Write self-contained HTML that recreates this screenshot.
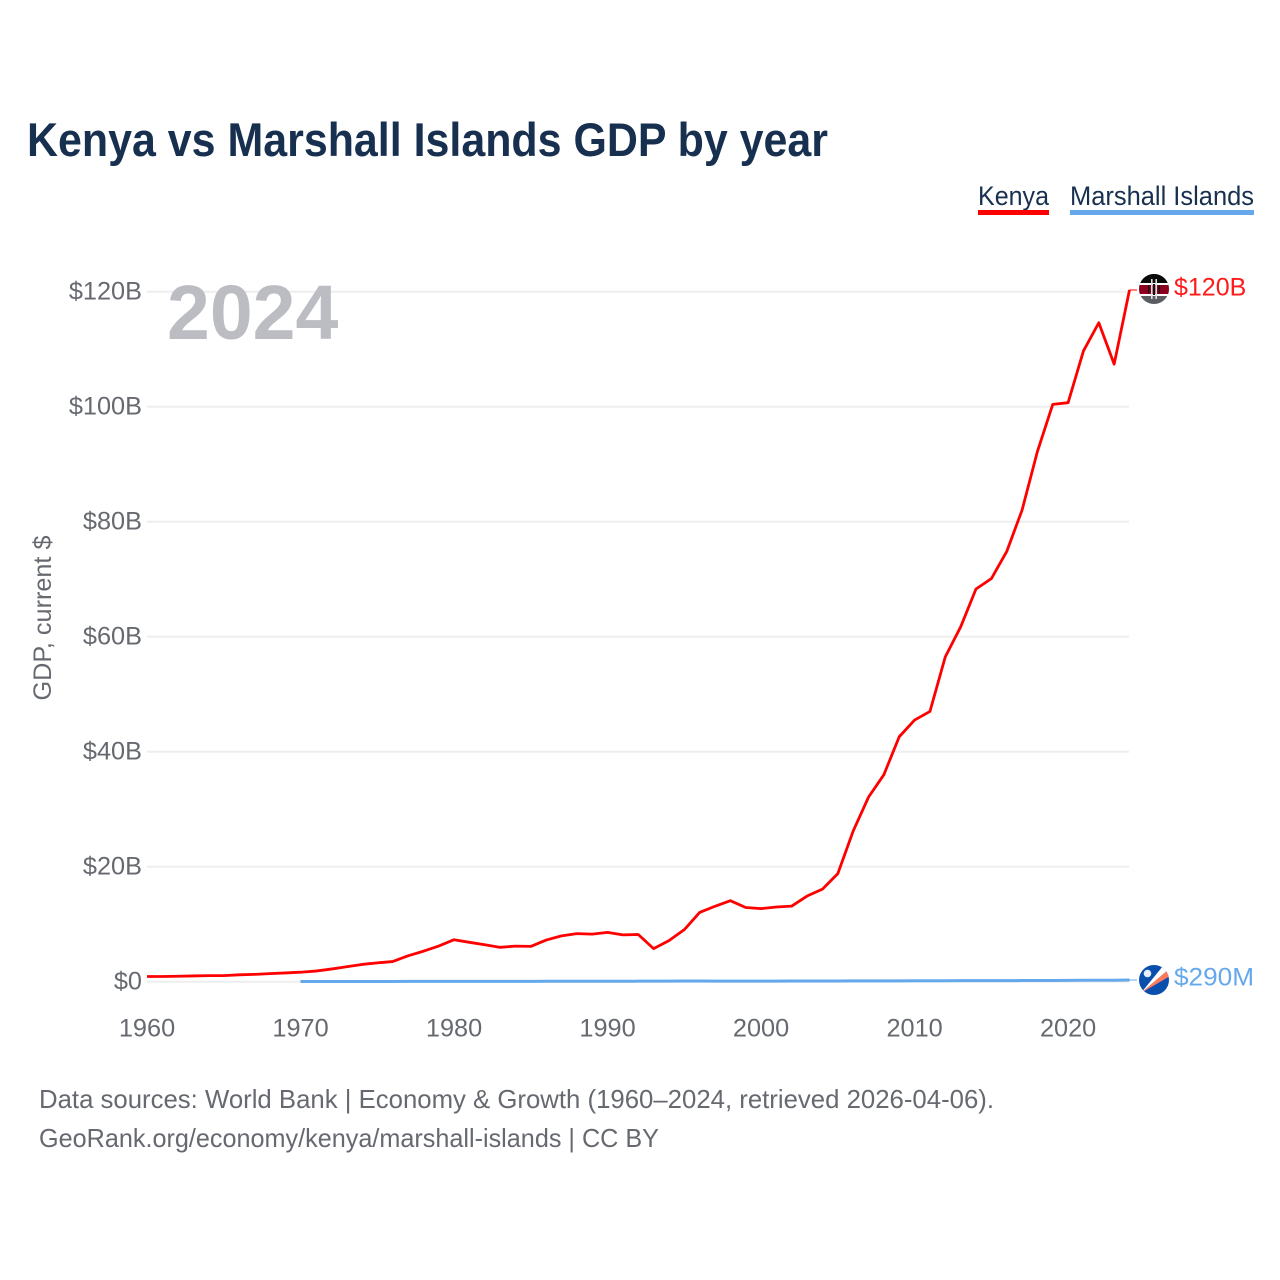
<!DOCTYPE html>
<html lang="en">
<head>
<meta charset="utf-8">
<title>Kenya vs Marshall Islands GDP by year</title>
<style>
  html, body { margin: 0; padding: 0; background: #fff; }
  svg { display: block; font-family: "Liberation Sans", sans-serif; }
</style>
</head>
<body>
<svg id="chart" xmlns="http://www.w3.org/2000/svg" width="1280" height="1280" viewBox="0 0 1280 1280">
  <defs>
    <clipPath id="flag-clip-ke"><circle cx="1154" cy="289" r="15"></circle></clipPath>
    <clipPath id="flag-clip-mh"><circle cx="1154" cy="980" r="15"></circle></clipPath>
  </defs>
  <rect width="1280" height="1280" fill="#fff"></rect>
  <text x="27" y="156" font-size="47" font-weight="700" fill="#18304f" textLength="801" lengthAdjust="spacingAndGlyphs">Kenya vs Marshall Islands GDP by year</text>

  <text x="978" y="205" font-size="27" fill="#18304f" textLength="71" lengthAdjust="spacingAndGlyphs">Kenya</text>
  <rect x="978" y="210" width="71" height="5" fill="#ff0000"></rect>
  <text x="1070" y="205" font-size="27" fill="#18304f" textLength="184" lengthAdjust="spacingAndGlyphs">Marshall Islands</text>
  <rect x="1070" y="210" width="184" height="5" fill="#66a8ec"></rect>

  <g id="grid"></g>
  <g id="y-ticks"></g>
  <g id="x-ticks"></g>
  <text transform="translate(51 618) rotate(-90)" text-anchor="middle" font-size="25" fill="#666a70" textLength="165" lengthAdjust="spacingAndGlyphs">GDP, current $</text>

  <text x="167" y="339" font-size="77" font-weight="700" fill="#bbbdc2">2024</text>

  <g id="series"></g>
  <g id="connectors"></g>

  <g clip-path="url(#flag-clip-ke)">
    <rect x="1139" y="274" width="30" height="30" fill="#5a5d62"></rect>
    <rect x="1139" y="274" width="30" height="9" fill="#0a0a0a"></rect>
    <rect x="1139" y="283" width="30" height="13" fill="#fff"></rect>
    <rect x="1139" y="285" width="30" height="9" fill="#8c0020"></rect>
    <rect x="1151" y="279" width="1.6" height="20" fill="#ddd"></rect>
    <rect x="1155.4" y="279" width="1.6" height="20" fill="#ddd"></rect>
    <rect x="1153" y="284" width="2" height="11" fill="#111"></rect>
    <rect x="1148" y="285" width="1.5" height="8" fill="#111"></rect>
    <rect x="1158.5" y="285" width="1.5" height="8" fill="#111"></rect>
  </g>
  <g clip-path="url(#flag-clip-mh)">
    <rect x="1139" y="965" width="30" height="30" fill="#0a4fae"></rect>
    <polygon points="1141,993 1169,969 1170,976" fill="#ff7a5c"></polygon>
    <polygon points="1141,993 1163,966 1169,969" fill="#ffffff"></polygon>
    <circle cx="1147.5" cy="973.5" r="3.8" fill="#e8eef8"></circle>
  </g>

  <text id="label-kenya" x="1174" y="295.5" font-size="25" fill="#ff1a1a"></text>
  <text id="label-mh" x="1174" y="985.5" font-size="25" fill="#66a8ec" textLength="80" lengthAdjust="spacingAndGlyphs"></text>

  <text x="39" y="1108" font-size="26" fill="#666a70" textLength="955" lengthAdjust="spacingAndGlyphs">Data sources: World Bank | Economy &amp; Growth (1960–2024, retrieved 2026-04-06).</text>
  <text x="39" y="1147" font-size="26" fill="#666a70" textLength="620" lengthAdjust="spacingAndGlyphs">GeoRank.org/economy/kenya/marshall-islands | CC BY</text>
</svg>

<script>
// Chart data (GDP in billions of current US$)
const kenyaStartYear = 1960;
const kenyaValues = [0.9, 0.9, 0.95, 1.0, 1.05, 1.05, 1.2, 1.28, 1.4, 1.52, 1.65, 1.85, 2.2, 2.6, 3.0, 3.28, 3.5, 4.5, 5.3, 6.2, 7.3, 6.85, 6.43, 5.98, 6.19, 6.14, 7.24, 7.97, 8.36, 8.28, 8.57, 8.15, 8.21, 5.75, 7.15, 9.05, 12.05, 13.12, 14.09, 12.9, 12.71, 12.99, 13.15, 14.9, 16.1, 18.8, 26.2, 32.1, 36.0, 42.6, 45.5, 47.0, 56.5, 61.7, 68.3, 70.1, 74.8, 82.0, 92.2, 100.4, 100.7, 109.7, 114.6, 107.4, 120.3];
const marshallStartYear = 1970;
const marshallValues = [0.03, 0.03, 0.03, 0.03, 0.04, 0.04, 0.04, 0.05, 0.05, 0.05, 0.06, 0.06, 0.06, 0.06, 0.06, 0.06, 0.07, 0.07, 0.07, 0.07, 0.08, 0.08, 0.09, 0.09, 0.11, 0.12, 0.12, 0.11, 0.11, 0.11, 0.11, 0.11, 0.12, 0.12, 0.13, 0.13, 0.14, 0.15, 0.15, 0.15, 0.16, 0.17, 0.17, 0.18, 0.18, 0.18, 0.19, 0.2, 0.21, 0.22, 0.24, 0.25, 0.25, 0.26, 0.29];
const yTickValues = [0, 20, 40, 60, 80, 100, 120];
const yTickLabels = ["$0", "$20B", "$40B", "$60B", "$80B", "$100B", "$120B"];
const xTickYears = [1960, 1970, 1980, 1990, 2000, 2010, 2020];
const endLabelKenya = "$120B";
const endLabelMarshall = "$290M";

const SVG_NS = "http://www.w3.org/2000/svg";
function xScale(year) { return 147 + (year - 1960) * (1129.5 - 147) / 64; }
function yScale(value) { return 981.7 - value * (981.7 - 291.7) / 120; }
function make(tag, attrs, parent) {
  const el = document.createElementNS(SVG_NS, tag);
  for (const k in attrs) el.setAttribute(k, attrs[k]);
  parent.appendChild(el);
  return el;
}
function linePoints(values, startYear) {
  return values.map(function (v, i) { return xScale(startYear + i).toFixed(2) + "," + yScale(v).toFixed(2); }).join(" ");
}

const gridG = document.getElementById("grid");
const yG = document.getElementById("y-ticks");
const xG = document.getElementById("x-ticks");
const seriesG = document.getElementById("series");
const connG = document.getElementById("connectors");

yTickValues.forEach(function (v, i) {
  const g = make("line", { x1: 147, x2: 1129, y1: yScale(v), y2: yScale(v), stroke: "#eeeeee", "stroke-width": 2 }, gridG);
  
  
  const t = make("text", { x: 142, y: yScale(v) + 8, "text-anchor": "end", "font-size": 25.3, fill: "#666a70" }, yG);
  t.textContent = yTickLabels[i];
  
  
});

xTickYears.forEach(function (yr) {
  const t = make("text", { x: xScale(yr), y: 1036.5, "text-anchor": "middle", "font-size": 25.3, fill: "#666a70" }, xG);
  t.textContent = String(yr);
  
  
});

const mhLine = make("polyline", { points: linePoints(marshallValues, marshallStartYear), fill: "none", stroke: "#66a8ec", "stroke-width": 3, "stroke-linejoin": "round" }, seriesG);



const keLine = make("polyline", { points: linePoints(kenyaValues, kenyaStartYear), fill: "none", stroke: "#ff0000", "stroke-width": 2.8, "stroke-linejoin": "round" }, seriesG);



const keLastY = yScale(kenyaValues[kenyaValues.length - 1]);
const mhLastY = yScale(marshallValues[marshallValues.length - 1]);
const keConn = make("line", { x1: 1129.5, x2: 1137, y1: keLastY, y2: keLastY, stroke: "#ff0000", "stroke-width": 1 }, connG);


const mhConn = make("line", { x1: 1129.5, x2: 1137, y1: mhLastY, y2: mhLastY, stroke: "#66a8ec", "stroke-width": 1 }, connG);



document.getElementById("label-kenya").textContent = endLabelKenya;
document.getElementById("label-mh").textContent = endLabelMarshall;
</script>
</body>
</html>
